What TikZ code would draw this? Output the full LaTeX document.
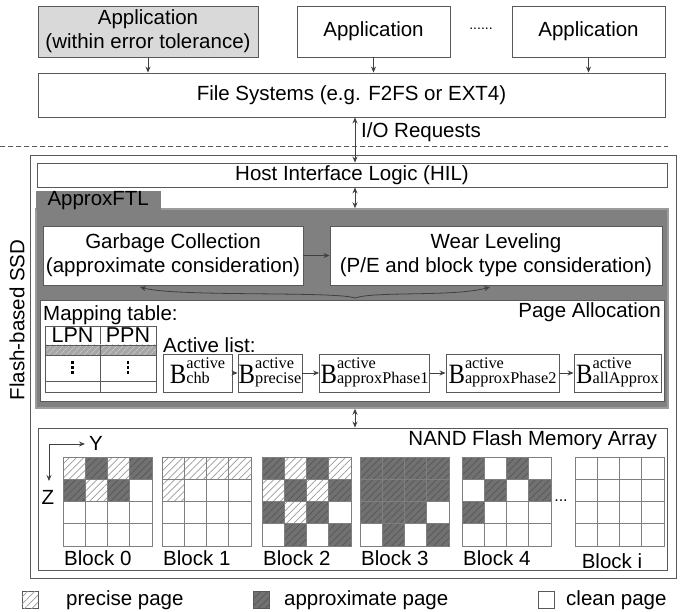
\documentclass[tikz,border=0pt]{standalone}
\usepackage{fontspec}
\setmainfont{Liberation Sans}
\newfontfamily\tnr{Liberation Serif}
\usetikzlibrary{patterns.meta,arrows.meta}

\definecolor{linegray}{HTML}{595959}
\definecolor{arrowgray}{HTML}{404040}
\definecolor{appfill}{HTML}{D9D9D9}
\definecolor{ftlfill}{HTML}{808080}
\definecolor{ftledge}{HTML}{9C9C9C}
\definecolor{cellgrid}{HTML}{7F7F7F}
\definecolor{dkcell}{HTML}{717171}
\definecolor{dkhatch}{HTML}{575757}
\definecolor{lthatch}{HTML}{9A9A9A}
\definecolor{rowfill}{HTML}{A6A6A6}
\definecolor{rowhatch}{HTML}{C8C8C8}

% active-block label: large B with "active" stacked over a subscript
\newcommand{\bact}[1]{{\tnr\fontsize{28}{28}\selectfont\scalebox{0.88}[1]{B}%
  \fontsize{16.3}{16.3}\selectfont
  \setbox0\hbox{active}\setbox2\hbox{#1}%
  \ifdim\wd0>\wd2 \wd2=\wd0 \fi
  \rlap{\raisebox{14.5pt}{\box0}}\box2}}

\tikzset{
  txt/.style={font=\fontsize{20.5}{24}\selectfont, inner sep=0pt},
  box/.style={draw=linegray, line width=0.9pt, fill=white, txt, align=center},
  arr/.style={draw=arrowgray, line width=0.8pt, -{Stealth[length=6pt,width=5pt]}},
  darr/.style={draw=arrowgray, line width=0.8pt, {Stealth[length=6pt,width=5pt]}-{Stealth[length=6pt,width=5pt]}},
  bbox/.style={draw=linegray, line width=0.9pt, fill=white, inner sep=0.5pt, text height=25pt, text depth=4pt},
  cellh/.style={fill=white, postaction={pattern={Lines[angle=45,distance=5pt,line width=0.7pt]}, pattern color=lthatch}},
  celld/.style={fill=dkcell, postaction={pattern={Lines[angle=45,distance=5pt,line width=0.7pt]}, pattern color=dkhatch}},
  cellw/.style={fill=white},
  gridline/.style={draw=cellgrid, line width=0.9pt},
}

\begin{document}
\begin{tikzpicture}[x=1pt,y=-1pt]
\useasboundingbox (0,0) rectangle (683,612);
\fill[white] (0,0) rectangle (683,612);

% applications and file system
\node[box, fill=appfill, minimum width=220pt, minimum height=51pt] (app1) at (148,31.5) {Application\\(within error tolerance)};
\node[box, minimum width=153pt, minimum height=51pt] (app2) at (373.5,31.5) {Application};
\node[txt, font=\fontsize{14}{14}\selectfont] (dots) at (481,29) {......};
\node[box, minimum width=153pt, minimum height=51pt] (app3) at (588.5,31.5) {Application};
\node[box, minimum width=627pt, minimum height=44pt] (fs) at (351.5,95) {File Systems (e.g. F2FS or EXT4)};
\foreach \a in {app1,app2,app3} \draw[arr] (\a.south) -- (\a.south |- fs.north);

% host / device boundary
\coordinate (dl) at (0,146);
\coordinate (dr) at (668,146);
\draw[linegray, line width=0.8pt, dash pattern=on 5pt off 3pt] (dl) -- (dr);
\node[txt, anchor=west] (io) at (361,132) {I/O Requests};
\coordinate (io-x) at (355,0);

% SSD
\node[draw=linegray, line width=0.9pt, minimum width=646pt, minimum height=423pt, inner sep=0pt] (ssd) at (353,366.5) {};
\node[txt, rotate=90] (ssdlabel) at (17,320) {Flash-based SSD};
\node[box, minimum width=630pt, minimum height=24pt] (hil) at (352,175) {Host Interface Logic (HIL)};
\draw[darr] (fs.south -| io-x) -- (hil.north -| io-x);

% ApproxFTL
\node[fill=ftlfill, draw=ftledge, line width=1.5pt, minimum width=632pt, minimum height=199pt, inner sep=0pt] (ftl) at (352,308.5) {};
\node[fill=ftlfill, txt, minimum width=125pt, minimum height=19pt, anchor=south west] (tab) at (35.5,210) {ApproxFTL};
\draw[darr] (hil.south -| io-x) -- (ftl.north -| io-x);

\node[box, minimum width=260pt, minimum height=59pt] (gc) at (173,255.5) {Garbage Collection\\(approximate consideration)};
\node[box, minimum width=332pt, minimum height=59pt] (wl) at (496,255.5) {Wear Leveling\\(P/E and block type consideration)};
\draw[arr] (gc) -- (wl);

\coordinate (br-l) at (140,287);
\coordinate (br-r) at (490,287);
\coordinate (br-m) at (355,298);
\draw[arr] (br-m) .. controls (335,291) and (175,297) .. (br-l);
\draw[arr] (br-m) .. controls (375,291) and (455,297) .. (br-r);

% page allocation
\node[box, minimum width=624pt, minimum height=101pt] (pa) at (352,350.5) {};
\node[txt, anchor=north east] (patxt) at (661,302) {Page Allocation};
\node[txt, anchor=west] (mt) at (43,315) {Mapping table:};

% mapping table
\node[draw=linegray, line width=0.9pt, minimum width=55pt, minimum height=19pt, txt, font=\fontsize{21.5}{24}\selectfont] (lpn) at (72.5,335.5) {LPN};
\node[draw=linegray, line width=0.9pt, minimum width=56pt, minimum height=19pt, txt, font=\fontsize{21.5}{24}\selectfont] (ppn) at (128,335.5) {PPN};
\path[fill=rowfill, postaction={pattern={Lines[angle=45,distance=4pt,line width=0.7pt]}, pattern color=rowhatch}] (45,345) rectangle (156,355);
\draw[linegray, line width=0.9pt] (45,345) rectangle (100,355) (100,345) rectangle (156,355)
  (45,355) rectangle (100,381) (100,355) rectangle (156,381)
  (45,381) rectangle (100,392) (100,381) rectangle (156,392);
% vertical ellipses in the table body
\foreach \dx in {72.5,128} \foreach \dy in {361.5,366.5,371.5}
  \fill[black] (\dx-1.2,\dy) rectangle ++(2.4,2.6);

% active list
\node[txt, anchor=west] (al) at (163,345) {Active list:};
\node[bbox, minimum width=69pt, minimum height=38pt] (b1) at (197.5,373) {\bact{chb}};
\node[bbox, minimum width=64pt, minimum height=38pt] (b2) at (270,373) {\bact{precise}};
\node[bbox, minimum width=110pt, minimum height=38pt] (b3) at (374.5,373) {\bact{approxPhase1}};
\node[bbox, minimum width=113pt, minimum height=38pt] (b4) at (502.5,373) {\bact{approxPhase2}};
\node[bbox, minimum width=87pt, minimum height=38pt] (b5) at (617.5,373) {\bact{allApprox}};
\draw[arr] (b1) -- (b2);
\draw[arr] (b2) -- (b3);
\draw[arr] (b3) -- (b4);
\draw[arr] (b4) -- (b5);

% NAND flash array
\node[box, minimum width=629pt, minimum height=142pt] (nand) at (352.5,499) {};
\node[txt, anchor=north east] (nandtxt) at (657,430) {NAND Flash Memory Array};
\draw[darr] (ftl.south -| io-x) -- (nand.north -| io-x);

\coordinate (ax-o) at (49,444);
\coordinate (ax-y) at (85,444);
\coordinate (ax-z) at (49,481);
\draw[arr] (ax-o) -- (ax-y);
\draw[arr] (ax-o) -- (ax-z);
\node[txt] (ylab) at (96,443) {Y};
\node[txt] (zlab) at (48,497) {Z};

\foreach \bx/\cells in {
  63/{h,d,h,d, d,h,d,w, w,w,w,w, w,w,w,w},
  162/{h,h,h,h, h,w,w,w, w,w,w,w, w,w,w,w},
  262/{d,h,d,h, h,d,h,d, d,h,d,w, w,d,w,d},
  360/{d,d,d,d, d,d,d,d, d,d,d,w, w,d,w,d},
  462/{d,w,d,w, w,d,w,d, d,w,w,w, w,w,w,w},
  575/{w,w,w,w, w,w,w,w, w,w,w,w, w,w,w,w}} {
  \foreach \t [count=\i from 0] in \cells {
    \pgfmathtruncatemacro\r{\i/4}
    \pgfmathtruncatemacro\c{mod(\i,4)}
    \path[cell\t] (\bx+\c*22.25,457+\r*22.25) rectangle ++(22.25,22.25);
  }
  \foreach \r in {0,...,3} \foreach \c in {0,...,3}
    \draw[gridline] (\bx+\c*22.25,457+\r*22.25) rectangle ++(22.25,22.25);
}
\foreach \bx [count=\k from 0] in {63,162,262,360,462}
  \node[txt, anchor=west] (blk\k) at (\bx+1,558) {Block \k};
\node[txt] (blki) at (612,561) {Block i};
\node[txt, font=\fontsize{16}{16}\selectfont] (bdots) at (561,501) {...};

% legend
\node[draw=linegray, line width=0.8pt, cellh, minimum width=16pt, minimum height=17pt, inner sep=0pt] (lgp) at (30,599.5) {};
\node[txt, anchor=west] (lgptxt) at (66,600) {precise page};
\node[draw=linegray, line width=0.8pt, celld, minimum width=16pt, minimum height=17pt, inner sep=0pt] (lga) at (261,599.5) {};
\node[txt, anchor=west] (lgatxt) at (284,600) {approximate page};
\node[draw=linegray, line width=0.8pt, cellw, minimum width=16pt, minimum height=17pt, inner sep=0pt] (lgc) at (546,599.5) {};
\node[txt, anchor=west] (lgctxt) at (566,600) {clean page};
\end{tikzpicture}
\end{document}
